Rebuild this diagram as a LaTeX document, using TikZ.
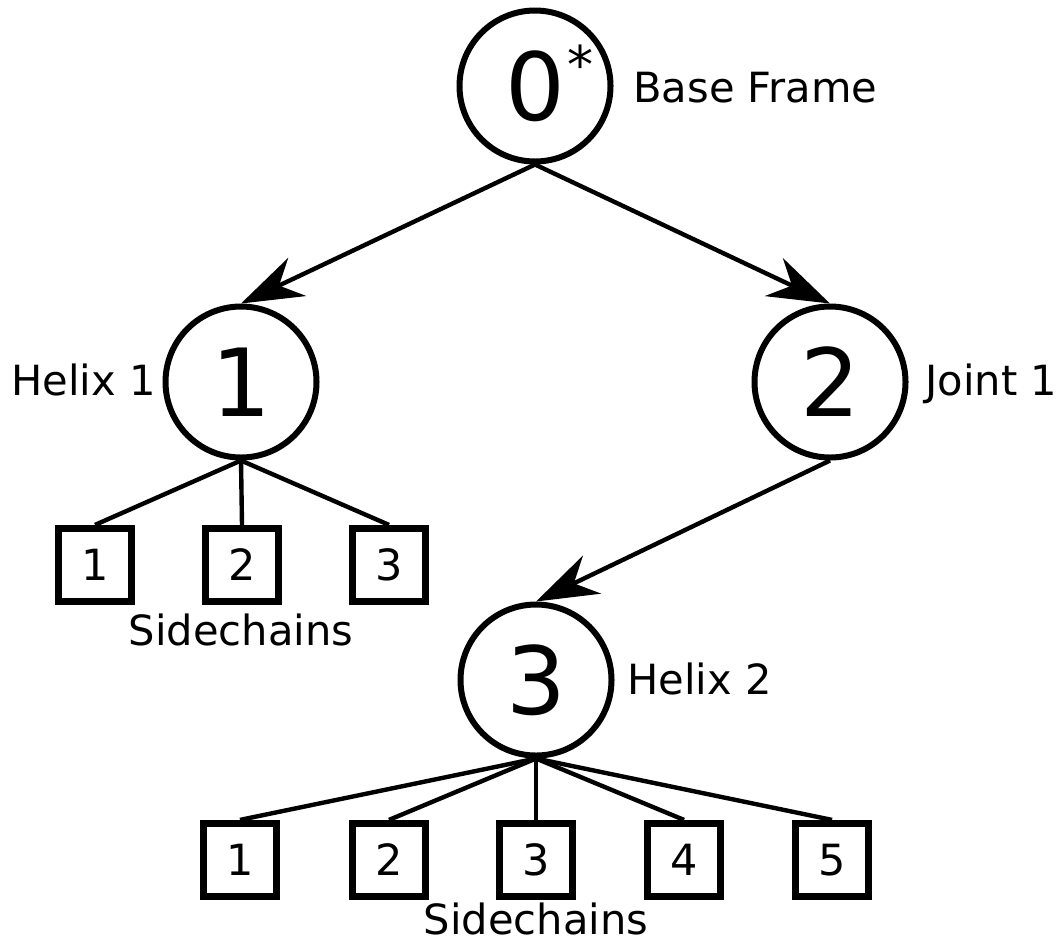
\documentclass[tikz,border=0pt]{standalone}
\usepackage{fontspec}
\setmainfont{DejaVu Sans}
\usetikzlibrary{arrows.meta}
\begin{document}
\begin{tikzpicture}[x=0.5pt,y=-0.5pt,
  bignode/.style={circle, draw, line width=3pt, minimum size=75.5pt, inner sep=0pt, font=\fontsize{47}{54}\selectfont},
  sidebox/.style={rectangle, draw, line width=3.6pt, minimum size=36.5pt, inner sep=0pt, font=\fontsize{21.5}{25}\selectfont},
  lbl/.style={inner sep=0pt, font=\fontsize{20.8}{24}\selectfont},
  link/.style={line width=2.2pt},
  arr/.style={line width=2.2pt, -{Stealth[length=31pt,width=21pt,inset=10pt]}}]
\useasboundingbox (0,0) rectangle (1063,943);

\node[bignode] (n0) at (535,86) {0};
\node[bignode] (n1) at (241,382) {1};
\node[bignode] (n2) at (830,382) {2};
\node[bignode] (n3) at (536,680) {3};
\node[inner sep=0pt, anchor=base, font=\fontsize{26}{30}\selectfont] (ast) at (580,83) {*};

\node[sidebox] (a1) at (95,565) {1};
\node[sidebox] (a2) at (242,565) {2};
\node[sidebox] (a3) at (389,565) {3};

\node[sidebox] (b1) at (240,860) {1};
\node[sidebox] (b2) at (389,860) {2};
\node[sidebox] (b3) at (536,860) {3};
\node[sidebox] (b4) at (684,860) {4};
\node[sidebox] (b5) at (832,860) {5};

\node[lbl, anchor=base west] (l0) at (633,102) {Base Frame};
\node[lbl, anchor=base west] (l1) at (11,395) {Helix 1};
\node[lbl, anchor=base west] (l2) at (925,395) {Joint 1};
\node[lbl, anchor=base west] (l3) at (627,694) {Helix 2};
\node[lbl, anchor=base] (sc1) at (241,645) {Sidechains};
\node[lbl, anchor=base] (sc2) at (536,934) {Sidechains};

\draw[arr] (n0.south) -- (n1.north);
\draw[arr] (n0.south) -- (n2.north);
\draw[arr] (n2.south) -- (n3.north);

\foreach \b in {a1,a2,a3} \draw[link] (n1.south) -- (\b.north);
\foreach \b in {b1,b2,b3,b4,b5} \draw[link] (n3.south) -- (\b.north);
\end{tikzpicture}
\end{document}
